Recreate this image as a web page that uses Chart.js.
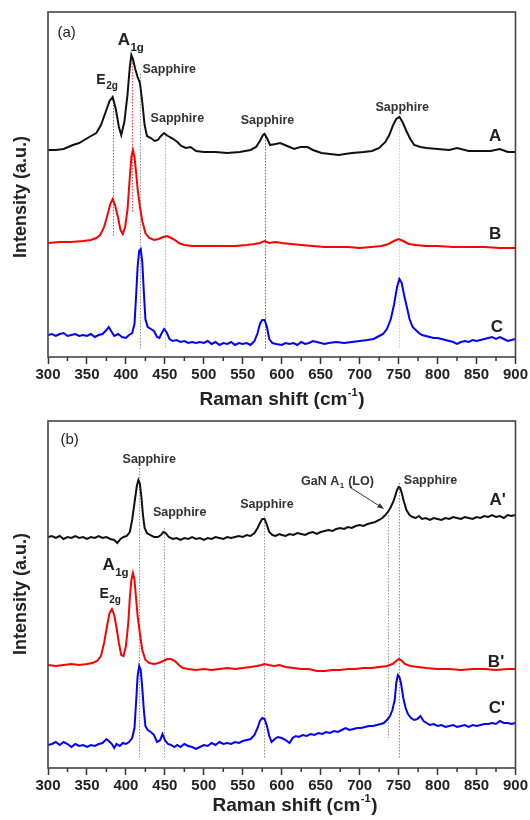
<!DOCTYPE html>
<html><head><meta charset="utf-8">
<script src="https://cdn.jsdelivr.net/npm/chart.js@4.4.0/dist/chart.umd.min.js"></script>
<style>
html,body{margin:0;padding:0;background:#fff;width:530px;height:820px;overflow:hidden}
.wrap{position:absolute;left:0;width:530px;height:410px}
</style></head><body>
<div class="wrap" style="top:0"><canvas id="ca" width="530" height="410"></canvas></div>
<div class="wrap" style="top:410px"><canvas id="cb" width="530" height="410"></canvas></div>
<script>
// ---------- DATA (Raman shift in cm^-1, intensity in arbitrary units) ----------
const xTicks = [300,350,400,450,500,550,600,650,700,750,800,850,900];
const xMinorTicks = [325,375,425,475,525,575,625,675,725,775,825,875];

// Panel (a)
const xA = [300,310,320,332,340,353,362,368,374,379,383,387,391,394,398,402,405,407,409,412,415,418,421,424,427,432,437,441,445,449,452,456,461,466,471,477,483,490,500,515,530,546,560,567,572,576,578,581,585,592,598,604,610,616,624,633,640,651,662,673,690,705,716,725,733,738,743,747,751,755,760,765,770,778,786,800,815,825,840,855,868,880,890,900];
const yA = [207,207,208,212,214,220,224,232,245,256,260,248,230,222,235,262,290,302,298,288,280,274,255,232,221,219,216,217,221,224,222,220,218,215,211,209,210,206,205,205,204,205,207,210,216,222,223,219,212,213,214,212,210,208,210,210,207,204,203,202,204,205,206,209,215,222,232,238,240,235,226,218,212,210,209,208,207,209,206,206,206,208,205,205];

const xB = [300,315,330,345,355,362,367,372,376,380,383,386,390,393,396,399,402,405,407,409,411,413,415,418,421,425,430,436,442,448,453,458,463,468,475,485,500,520,540,555,565,572,578,584,592,600,612,625,640,655,670,685,700,715,728,737,744,750,756,763,772,785,800,820,840,860,880,900];
const yB = [114,115,115,116,117,119,122,130,141,153,158,152,139,127,123,130,147,180,200,207,200,185,168,150,136,124,119,117,118,120,121,119,117,114,112,111,111,111,111,112,113,114,116,114,115,114,113,112,111,110,110,110,109,110,111,113,116,118,116,113,112,111,111,110,110,110,109,109];

const xC = [300,305,310,315,320,325,330,335,340,345,350,355,360,365,370,375,378,381,385,390,395,400,404,408,411,413,415,417,419,421,423,425,428,432,436,440,443,446,449,452,456,460,465,470,475,480,485,490,495,500,505,510,515,520,525,530,535,540,545,550,555,560,565,569,572,575,578,581,584,588,593,600,605,610,615,620,625,630,635,640,645,650,655,660,670,680,690,700,710,718,725,730,735,740,744,748,751,754,757,760,764,768,772,776,780,785,790,795,800,805,810,815,820,825,830,835,840,845,850,855,860,865,870,875,880,885,890,895,900];
const yC = [22,23,21,23,24,21,22,23,21,22,21,23,20,22,23,27,30,26,21,23,20,19,22,24,33,60,90,106,108,95,65,38,30,28,26,20,19,24,28,25,18,16,17,15,16,14,15,14,15,14,16,13,15,12,14,13,15,12,14,13,14,12,16,24,33,37,37,30,18,14,13,12,14,13,14,12,15,13,14,16,15,14,13,14,15,14,15,16,17,18,21,23,28,38,52,70,78,74,62,52,38,30,27,24,22,21,20,19,19,18,17,16,15,13,15,16,15,17,16,17,18,19,20,18,20,18,16,17,18];

// Panel (b)
const xA2 = [300,305,310,315,320,325,330,335,340,345,350,355,360,365,370,375,380,385,389,393,397,401,405,408,411,414,416,418,420,422,424,427,431,436,441,445,448,451,455,460,465,470,475,480,485,490,495,500,505,510,515,520,525,530,535,540,545,550,555,560,565,569,572,575,578,581,584,588,592,597,600,605,610,615,620,625,630,635,640,645,650,655,660,665,670,675,680,685,690,695,700,705,710,715,720,725,729,733,737,740,743,746,748,750,752,754,757,760,764,768,772,776,780,785,790,795,800,805,810,815,820,825,830,835,840,845,850,855,860,865,870,875,880,885,890,895,900];
const yA2 = [231,232,230,232,229,231,230,232,230,231,229,231,230,232,230,231,229,228,225,229,231,232,236,248,265,282,288,284,270,252,240,235,233,231,231,233,236,235,231,229,230,228,230,229,231,229,230,228,230,229,231,230,229,231,230,231,232,231,233,232,235,240,245,249,249,243,236,233,232,234,233,232,234,233,235,234,233,235,236,234,236,237,238,237,239,240,239,241,240,242,243,242,244,245,246,248,250,253,257,261,266,273,278,281,280,275,266,258,253,251,250,252,249,250,248,250,249,248,250,249,251,250,249,251,250,249,251,250,252,251,253,251,252,250,253,252,253];

const xB2 = [300,310,320,330,340,350,357,363,368,372,376,379,382,385,388,391,394,397,400,403,405,407,409,411,413,415,418,421,425,430,436,442,448,453,458,463,468,473,480,490,500,510,520,530,540,550,560,568,574,578,583,590,597,605,615,625,635,645,655,665,675,685,695,705,715,725,735,742,747,750,753,758,765,775,785,800,815,830,845,860,875,890,900];
const yB2 = [103,102,103,104,103,104,105,107,112,125,143,155,159,153,140,125,113,112,122,145,170,188,195,188,170,152,134,118,108,105,104,105,107,109,109,107,103,100,99,98,99,98,99,100,99,100,101,102,103,104,103,102,103,101,100,99,99,97,97,98,98,99,99,100,100,101,102,104,107,109,108,104,102,101,100,99,99,98,99,99,98,99,99];

const xC2 = [300,305,310,315,320,325,330,335,340,345,350,355,360,365,370,375,378,382,385,388,392,396,400,404,408,411,413,415,417,419,421,423,425,428,432,436,440,444,447,450,454,458,462,466,470,475,480,485,490,495,500,505,510,515,520,525,530,535,540,545,550,555,560,565,569,572,575,578,581,584,587,591,595,600,605,610,614,618,622,627,632,637,642,647,652,657,662,667,672,677,682,687,692,697,702,707,712,717,722,727,731,735,739,742,745,747,749,751,753,756,759,762,766,770,774,778,782,786,790,795,800,805,810,815,820,825,830,835,840,845,850,855,860,865,870,875,880,885,890,895,900];
const yC2 = [23,24,26,23,26,24,21,24,22,23,21,23,22,24,25,29,27,24,20,24,22,25,24,26,30,40,65,92,102,98,80,58,42,38,36,33,26,28,34,28,24,23,21,23,21,24,22,21,19,21,23,22,25,23,26,24,25,24,26,25,27,28,29,33,40,47,50,49,42,32,26,29,31,30,28,25,30,32,31,33,32,34,33,35,34,36,35,37,36,38,40,38,39,40,40,41,42,42,43,44,45,48,52,58,68,85,93,91,85,70,60,54,50,48,49,52,47,45,43,44,42,43,41,42,43,41,42,43,41,43,42,43,44,44,45,44,47,45,45,44,45];

// ---------- ANNOTATIONS ----------
const FONT = '"Liberation Sans", Arial, sans-serif';
const annA = {
  panel: '(a)', panelAt: [324, 324],
  subs: [
    {main:'A', sub:'1g', x:389.4, y:317, size:17, subSize:11.5},
    {main:'E', sub:'2g', x:362, y:277, size:14, subSize:10}
  ],
  texts: [
    {t:'Sapphire', x:455.6, y:287},
    {t:'Sapphire', x:466, y:238},
    {t:'Sapphire', x:581.7, y:236},
    {t:'Sapphire', x:754.7, y:249}
  ],
  curveLabels: [{t:'A', x:874, y:221},{t:'B', x:874, y:123},{t:'C', x:876, y:30}],
  vlines: [
    {x:383, y1:258, y2:121, c:'rgba(255,40,40,0.9)'},
    {x:407.5, y1:300, y2:145, c:'rgba(255,40,40,0.9)'},
    {x:418, y1:283, y2:8, c:'rgba(120,120,120,0.8)'},
    {x:450, y1:221, y2:8, c:'rgba(150,150,150,0.7)'},
    {x:578, y1:220, y2:8, c:'rgba(90,90,90,0.9)'},
    {x:751, y1:236, y2:8, c:'rgba(170,170,170,0.6)'}
  ],
  arrows: [],
  xTitleCx: 282, xTitleCy: 400, yTitleCy: 197
};
const annB = {
  panel: '(b)', panelAt: [327.7, 328],
  subs: [
    {main:'A', sub:'1g', x:369.8, y:202.5, size:17, subSize:11.5},
    {main:'E', sub:'2g', x:366, y:174, size:14, subSize:10}
  ],
  texts: [
    {t:'Sapphire', x:430, y:308},
    {t:'Sapphire', x:469, y:255},
    {t:'Sapphire', x:581, y:263},
    {t:'Sapphire', x:791, y:287}
  ],
  gan: {x:624.8, y:286},
  curveLabels: [{t:"A'", x:877, y:268},{t:"B'", x:875, y:106},{t:"C'", x:876, y:60}],
  vlines: [
    {x:417, y1:300, y2:10, c:'rgba(120,120,120,0.8)'},
    {x:449, y1:240, y2:10, c:'rgba(130,130,130,0.8)'},
    {x:577, y1:252, y2:10, c:'rgba(120,120,120,0.8)'},
    {x:736, y1:256, y2:30, c:'rgba(130,130,130,0.8)'},
    {x:750, y1:285, y2:10, c:'rgba(110,110,110,0.8)'}
  ],
  arrows: [{x1:687, y1:281, x2:731.6, y2:259}],
  xTitleCx: 295, xTitleCy: 396, yTitleCy: 184
};

function toPts(xs, ys){ return xs.map((x,i)=>({x:x, y:ys[i]})); }

const decorPlugin = {
  id:'decor',
  beforeDatasetsDraw(chart){
    const a = chart.options.plugins.decor.ann;
    const ctx = chart.ctx, xs = chart.scales.x, ys = chart.scales.y;
    ctx.save();
    ctx.lineWidth = 1;
    ctx.setLineDash([1.5,1.5]);
    a.vlines.forEach(v=>{
      const px = Math.round(xs.getPixelForValue(v.x))+0.5;
      ctx.strokeStyle = v.c;
      ctx.beginPath();
      ctx.moveTo(px, ys.getPixelForValue(v.y1));
      ctx.lineTo(px, ys.getPixelForValue(v.y2));
      ctx.stroke();
    });
    ctx.restore();
  },
  afterDraw(chart){
    const a = chart.options.plugins.decor.ann;
    const ctx = chart.ctx, xs = chart.scales.x, ys = chart.scales.y;
    const ca = chart.chartArea;
    ctx.save();
    // frame
    ctx.strokeStyle = '#444'; ctx.lineWidth = 1.6; ctx.setLineDash([]);
    ctx.strokeRect(ca.left, ca.top, ca.right-ca.left, ca.bottom-ca.top);
    // minor ticks
    ctx.strokeStyle = '#333'; ctx.lineWidth = 1.5;
    xMinorTicks.forEach(v=>{
      const px = xs.getPixelForValue(v);
      ctx.beginPath(); ctx.moveTo(px, ca.bottom); ctx.lineTo(px, ca.bottom+4); ctx.stroke();
    });
    // panel tag
    ctx.fillStyle = '#222'; ctx.textBaseline = 'middle'; ctx.textAlign = 'center';
    ctx.font = '15px ' + FONT;
    ctx.fillText(a.panel, xs.getPixelForValue(a.panelAt[0]), ys.getPixelForValue(a.panelAt[1]));
    // sub labels
    a.subs.forEach(s=>{
      const px = xs.getPixelForValue(s.x), py = ys.getPixelForValue(s.y);
      ctx.textAlign = 'left';
      ctx.font = 'bold ' + s.size + 'px ' + FONT;
      ctx.fillText(s.main, px, py);
      const w = ctx.measureText(s.main).width;
      ctx.font = 'bold ' + s.subSize + 'px ' + FONT;
      ctx.fillText(s.sub, px + w + 0.5, py + s.size*0.45);
    });
    // sapphire texts
    ctx.fillStyle = '#333'; ctx.textAlign = 'center';
    ctx.font = 'bold 12.5px ' + FONT;
    a.texts.forEach(t=>{
      ctx.fillText(t.t, xs.getPixelForValue(t.x), ys.getPixelForValue(t.y));
    });
    if (a.gan){
      const px = xs.getPixelForValue(a.gan.x), py = ys.getPixelForValue(a.gan.y);
      ctx.textAlign = 'left';
      ctx.font = 'bold 12.5px ' + FONT;
      const p1 = 'GaN A'; ctx.fillText(p1, px, py);
      let w = ctx.measureText(p1).width;
      ctx.font = 'bold 8px ' + FONT; ctx.fillText('1', px+w+0.5, py+4);
      w += ctx.measureText('1').width + 1;
      ctx.font = 'bold 12.5px ' + FONT; ctx.fillText(' (LO)', px+w, py);
    }
    // arrows
    ctx.strokeStyle = '#333'; ctx.fillStyle = '#333'; ctx.lineWidth = 1;
    a.arrows.forEach(r=>{
      const x1 = xs.getPixelForValue(r.x1), y1 = ys.getPixelForValue(r.y1);
      const x2 = xs.getPixelForValue(r.x2), y2 = ys.getPixelForValue(r.y2);
      const ang = Math.atan2(y2-y1, x2-x1);
      ctx.beginPath(); ctx.moveTo(x1,y1); ctx.lineTo(x2 - 5*Math.cos(ang), y2 - 5*Math.sin(ang)); ctx.stroke();
      ctx.beginPath();
      ctx.moveTo(x2, y2);
      ctx.lineTo(x2 - 7*Math.cos(ang) + 2.5*Math.sin(ang), y2 - 7*Math.sin(ang) - 2.5*Math.cos(ang));
      ctx.lineTo(x2 - 7*Math.cos(ang) - 2.5*Math.sin(ang), y2 - 7*Math.sin(ang) + 2.5*Math.cos(ang));
      ctx.closePath(); ctx.fill();
    });
    // curve labels
    ctx.fillStyle = '#222'; ctx.textAlign = 'center';
    ctx.font = 'bold 17px ' + FONT;
    a.curveLabels.forEach(t=>{
      ctx.fillText(t.t, xs.getPixelForValue(t.x), ys.getPixelForValue(t.y));
    });
    // x title
    ctx.fillStyle = '#222';
    const big = 'bold 19px ' + FONT, small = 'bold 11px ' + FONT;
    const p1 = 'Raman shift (cm', sup = '-1', p2 = ')';
    ctx.font = big; const w1 = ctx.measureText(p1).width, w2 = ctx.measureText(p2).width;
    ctx.font = small; const ws = ctx.measureText(sup).width;
    let x0 = a.xTitleCx - (w1+ws+w2+1)/2;
    ctx.textAlign = 'left';
    ctx.font = big; ctx.fillText(p1, x0, a.xTitleCy);
    ctx.font = small; ctx.fillText(sup, x0+w1+0.5, a.xTitleCy-7);
    ctx.font = big; ctx.fillText(p2, x0+w1+ws+1, a.xTitleCy);
    // y title
    ctx.translate(21, a.yTitleCy);
    ctx.rotate(-Math.PI/2);
    ctx.textAlign = 'center';
    ctx.font = 'bold 18px ' + FONT;
    ctx.fillText('Intensity (a.u.)', 0, 0);
    ctx.restore();
  }
};

function makeChart(id, ann, datasets, cfg){
  return new Chart(document.getElementById(id), {
    type:'line',
    data:{datasets: datasets},
    options:{
      responsive:false, animation:false, devicePixelRatio:1,
      layout:{padding:{top:cfg.top, right:cfg.right, left:0, bottom:0}},
      plugins:{legend:{display:false}, tooltip:{enabled:false}, decor:{ann:ann}},
      elements:{point:{radius:0}, line:{borderWidth:2, tension:0}},
      scales:{
        x:{type:'linear', min:300, max:900,
          afterBuildTicks: s=>{ s.ticks = xTicks.map(v=>({value:v})); },
          ticks:{color:'#222', padding:2, maxRotation:0, autoSkip:false,
            font:{family:FONT, size:15, weight:'bold'}, callback:v=>String(v)},
          grid:{display:true, drawOnChartArea:false, drawTicks:true, tickLength:7, tickColor:'#333', tickWidth:1.5},
          border:{display:false},
          afterFit: s=>{ s.height = cfg.xh; }
        },
        y:{type:'linear', min:0, max:cfg.ymax,
          ticks:{display:false}, grid:{display:false}, border:{display:false},
          afterFit: s=>{ s.width = 48; }
        }
      }
    },
    plugins:[decorPlugin]
  });
}

makeChart('ca', annA, [
  {data:toPts(xA,yA), borderColor:'#111', borderWidth:2},
  {data:toPts(xB,yB), borderColor:'#ff0000', borderWidth:2},
  {data:toPts(xC,yC), borderColor:'#0000ff', borderWidth:2}
], {top:12, right:14, xh:53, ymax:345});

makeChart('cb', annB, [
  {data:toPts(xA2,yA2), borderColor:'#111', borderWidth:2},
  {data:toPts(xB2,yB2), borderColor:'#ff0000', borderWidth:2},
  {data:toPts(xC2,yC2), borderColor:'#0000ff', borderWidth:2}
], {top:11, right:11, xh:52, ymax:347});
</script>
</body></html>
